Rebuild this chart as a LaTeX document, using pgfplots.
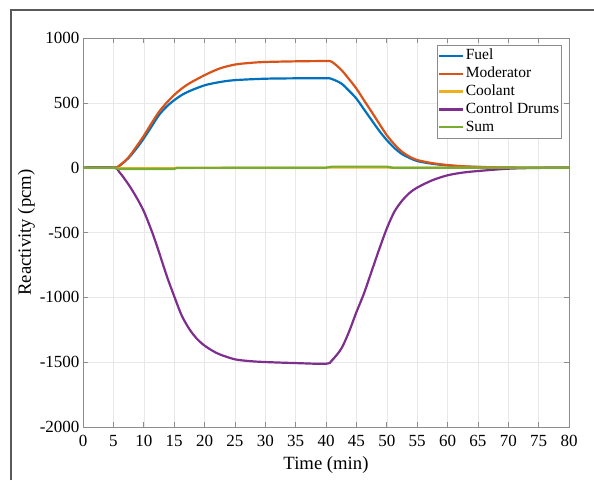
\documentclass[border=0pt]{standalone}
\usepackage{fontspec}
\setmainfont{Liberation Serif}
\usepackage{pgfplots}
\pgfplotsset{compat=1.18}
\definecolor{mblue}{rgb}{0,0.447,0.741}
\definecolor{morange}{rgb}{0.85,0.325,0.098}
\definecolor{myellow}{rgb}{0.929,0.694,0.125}
\definecolor{mpurple}{rgb}{0.494,0.184,0.556}
\definecolor{mgreen}{rgb}{0.466,0.674,0.188}
\begin{document}
\begin{tikzpicture}[x=1pt,y=1pt]
\useasboundingbox (0,0) rectangle (594,480);
\draw[black!65, line width=1.3pt] (11,0) -- (11,470) -- (594,470);
\begin{axis}[
  at={(83pt,53pt)}, anchor=south west, scale only axis,
  width=486pt, height=389pt,
  xmin=0, xmax=80, ymin=-2000, ymax=1000,
  xtick={0,5,...,80}, ytick={-2000,-1500,...,1000},
  grid=major, major grid style={black!9, line width=0.5pt},
  axis line style={black!45, line width=0.6pt},
  tick style={black!45, line width=0.6pt},
  tick align=inside, major tick length=5pt,
  xtick pos=both, ytick pos=both,
  ticklabel style={font=\fontsize{17}{17}\selectfont},
  xticklabel style={yshift=-5pt},
  /pgf/number format/assume math mode=true,
  /pgf/number format/set thousands separator={},
  scaled ticks=false,
  xlabel={Time (min)}, ylabel={Reactivity (pcm)},
  label style={font=\fontsize{18.7}{20}\selectfont},
  xlabel style={yshift=-3pt},
  ylabel style={yshift=-2pt},
  legend cell align=left,
  legend style={at={(rel axis cs:0.9856,0.982)}, anchor=north east,
    draw=black!45, line width=0.6pt, font=\fontsize{15.5}{17}\selectfont,
    inner xsep=1pt, inner ysep=1.5pt,
    nodes={inner xsep=1.5pt, inner ysep=1.7pt, text height=11pt, text depth=3.5pt}},
  legend image code/.code={\draw[#1, line width=2.2pt] (0pt,0pt) -- (24pt,0pt);},
]
\addplot[mblue, line width=2.2pt, smooth, tension=0.5] coordinates {
(0,0) (5,0) (6,15) (7.5,75) (8.75,145) (10,225) (11.25,315) (12.5,405) (13.75,470) (15,520) (16.25,560) (17.5,590) (20,635) (22.5,660) (25,675) (30,686) (35,689) (40,690) (41,683) (42.5,650) (43.75,595) (45,533) (46.25,450) (47.5,367) (48.75,285) (50,213) (51.25,152) (52.5,105) (53.75,75) (55,51) (57.5,30) (60,17) (62.5,9) (65,5) (70,1) (75,0) (80,0)};
\addlegendentry{Fuel}
\addplot[morange, line width=2.2pt, smooth, tension=0.5] coordinates {
(0,0) (5,0) (6,16) (7.5,80) (8.75,160) (10,245) (11.25,340) (12.5,430) (13.75,500) (15,560) (16.25,610) (17.5,650) (20,713) (22.5,765) (25,795) (27.5,808) (30,815) (35,820) (40,822) (41,815) (42.5,755) (43.75,685) (45,610) (46.25,520) (47.5,431) (48.75,340) (50,251) (51.25,180) (52.5,123) (53.75,85) (55,59) (57.5,35) (60,20) (62.5,11) (65,6) (70,1) (75,0) (80,0)};
\addlegendentry{Moderator}
\addplot[myellow, line width=2.2pt] coordinates {
(0,0) (5,0) (6,-4) (15,-5) (15.5,0) (40,0) (41,2) (50,2) (50.5,0) (80,0)};
\addlegendentry{Coolant}
\addplot[mpurple, line width=2.2pt, smooth, tension=0.5] coordinates {
(0,0) (5,0) (6,-35) (7.5,-130) (8.75,-225) (10,-335) (11.4,-500) (12.5,-650) (13.75,-830) (15,-990) (16.25,-1140) (17.5,-1244) (18.75,-1320) (20,-1372) (21.25,-1410) (22.5,-1440) (25,-1478) (27.5,-1492) (30,-1499) (35,-1507) (40,-1512) (41,-1485) (42.5,-1397) (43.75,-1270) (45,-1115) (46.25,-970) (47.5,-800) (48.75,-630) (50,-470) (51.25,-340) (52.5,-256) (53.75,-195) (55,-154) (57.5,-97) (60,-59) (62.5,-38) (65,-26) (70,-8) (75,-2) (80,0)};
\addlegendentry{Control Drums}
\addplot[mgreen, line width=2.2pt] coordinates {
(0,0) (5,0) (6,-10) (15,-10) (15.5,-2) (40,0) (41,8) (50,8) (51,0) (80,0)};
\addlegendentry{Sum}
\end{axis}
\end{tikzpicture}
\end{document}
